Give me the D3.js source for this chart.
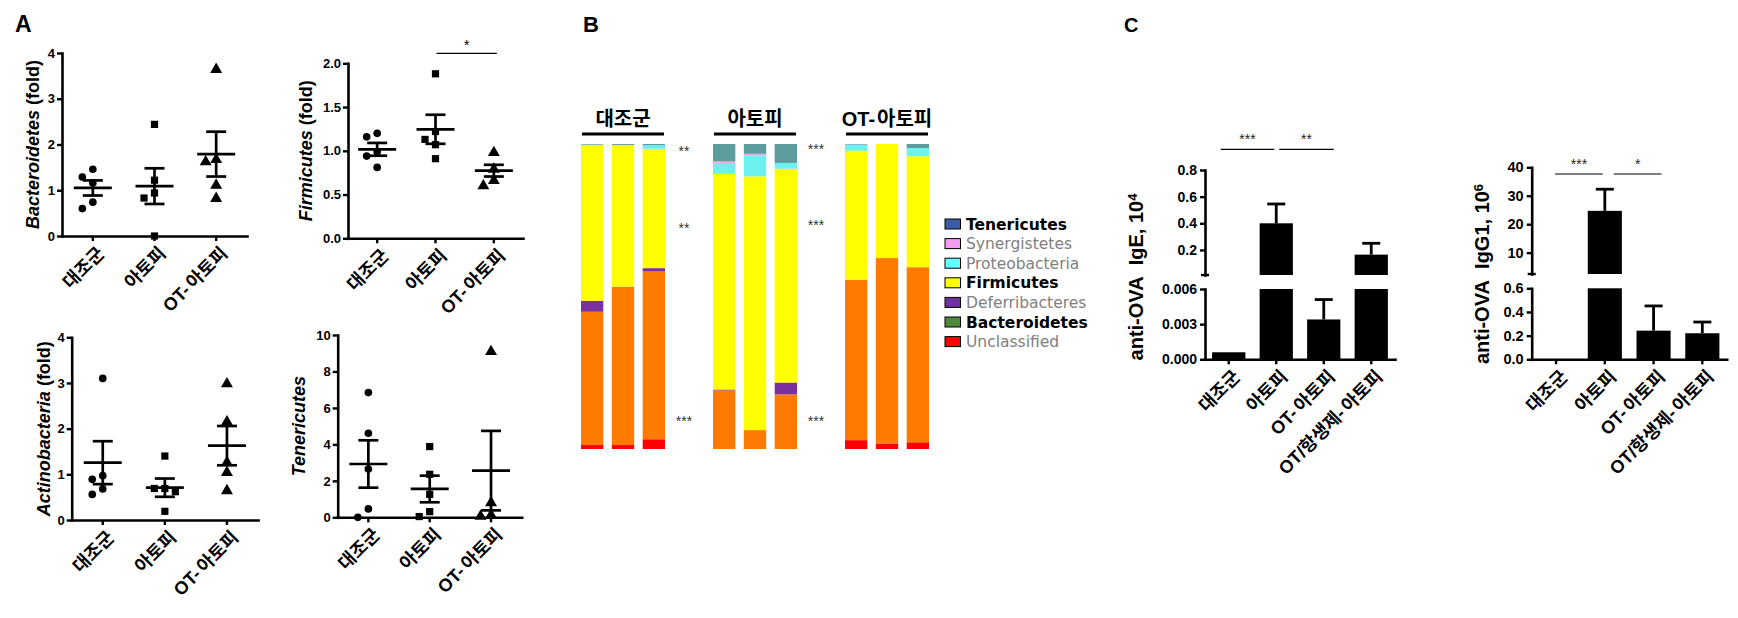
<!DOCTYPE html>
<html><head><meta charset="utf-8">
<script src="https://cdn.jsdelivr.net/npm/d3@7"></script>
<style>body{margin:0;background:#fff}</style>
</head><body><svg id="c" width="1738" height="618"></svg>
<script>
// ---------------- DATA ----------------
const groups3 = ["대조군", "아토피", "OT-아토피"];
const groups4 = ["대조군", "아토피", "OT-아토피", "OT/항생제-아토피"];

// Panel A (fold values per mouse, mean, SEM)
const bacteroidetesPts = [[1.46, 1.29, 1.16, 0.74, 0.60], [2.44, 1.22, 0.94, 0.83, 0.0], [3.64, 1.67, 1.62, 1.11, 0.82]];
const bacteroidetesMean = [1.05, 1.09, 1.79];
const bacteroidetesSem = [0.165, 0.39, 0.49];
const firmicutesPts = [[1.20, 1.16, 0.99, 0.94, 0.81], [1.88, 1.22, 1.13, 1.07, 0.91], [0.98, 0.79, 0.66, 0.60]];
const firmicutesMean = [1.017, 1.246, 0.773];
const firmicutesSem = [0.073, 0.166, 0.067];
const actinobacteriaPts = [[3.10, 0.97, 0.89, 0.68, 0.56], [1.40, 0.69, 0.69, 0.62, 0.19], [2.98, 2.15, 1.26, 1.04, 0.64]];
const actinobacteriaMean = [1.255, 0.708, 1.628];
const actinobacteriaSem = [0.47, 0.20, 0.43];
const tenericutesPts = [[6.84, 4.61, 2.65, 0.46, 0.0], [3.88, 2.36, 1.26, 0.31, 0.04], [9.09, 0.80, 0.12, 0.05]];
const tenericutesMean = [2.925, 1.554, 2.56];
const tenericutesSem = [1.30, 0.73, 2.18];

// Panel B (relative abundance %, 3 mice per group), bottom -> top
const phyla = ["Unclassified", "Bacteroidetes", "Deferribacteres", "Firmicutes", "Proteobacteria", "Synergistetes", "Tenericutes"];
const unclassifiedPct   = [1.3, 1.3, 3.2, 0, 0, 0, 2.9, 1.8, 2.2];
const bacteroidetesPct  = [43.7, 51.7, 55.0, 19.2, 6.2, 17.9, 52.6, 60.8, 57.4];
const deferribacteresPct= [3.6, 0.2, 1.1, 0.3, 0, 3.9, 0, 0, 0];
const firmicutesPct     = [51.1, 46.5, 39.1, 70.7, 83.2, 70.1, 42.3, 37.4, 36.4];
const proteobacteriaPct = [0.1, 0, 1.2, 3.6, 6.9, 1.9, 2.0, 0, 2.7];
const synergistetesPct  = [0, 0, 0, 0.5, 0.5, 0, 0, 0, 0];
const tenericutesPct    = [0.2, 0.3, 0.4, 5.7, 3.2, 6.2, 0.2, 0, 1.3];
const legendOrder = ["Tenericutes", "Synergistetes", "Proteobacteria", "Firmicutes", "Deferribacteres", "Bacteroidetes", "Unclassified"];
const legendBold = ["Tenericutes", "Firmicutes", "Bacteroidetes"];
const starLabels = [["**", "**", "***"], ["***", "***", "***"]];
const starLevels = [[98.6, 73.4, 10.1], [99.4, 74.5, 10.3]];

// Panel C
const igeMean = [0.0006, 0.40, 0.0034, 0.165];
const igeSem = [0, 0.145, 0.0017, 0.085];
const igeUpperTicks = [0.2, 0.4, 0.6, 0.8];
const igeLowerTicks = [0, 0.003, 0.006];
const igg1Mean = [0, 24.7, 0.242, 0.22];
const igg1Sem = [0, 7.6, 0.209, 0.095];
const igg1UpperTicks = [10, 20, 30, 40];
const igg1LowerTicks = [0, 0.2, 0.4, 0.6];

// ---------------- STYLE ----------------
const NUM = "'Liberation Sans', Arial, sans-serif";
const KR = "'Liberation Sans', 'Noto Sans CJK KR', sans-serif";
const barColors = {Unclassified:"#FF0000", Bacteroidetes:"#FF7A00", Deferribacteres:"#7B2FA0", Firmicutes:"#FFFF00",
  Proteobacteria:"#6CF0F0", Synergistetes:"#F2A0D8", Tenericutes:"#5C9C9C"};
const legendColors = {Tenericutes:"#3A5DA8", Synergistetes:"#F49CF0", Proteobacteria:"#66FFFF", Firmicutes:"#FFFF00",
  Deferribacteres:"#7030A0", Bacteroidetes:"#4F8A3C", Unclassified:"#FF0000"};

const svg = d3.select("#c");
svg.append("rect").attr("width", 1738).attr("height", 618).attr("fill", "#fff");

function styleAxis(g, fs) {
  g.selectAll("path.domain").attr("stroke", "#000").attr("stroke-width", 2.6).attr("stroke-linecap", "square");
  g.selectAll(".tick line").attr("stroke", "#000").attr("stroke-width", 2.4);
  g.selectAll("text").attr("font-family", NUM).attr("font-weight", "bold").attr("font-size", fs).attr("fill", "#000");
}
// label text with a small gap after "-" as in the reference typesetting
function gappedText(t, label, gap) {
  const parts = label.split(/(?<=-)/);
  parts.forEach((p, i) => t.append("tspan").attr("dx", i ? gap : 0).text(p));
}
function xLabels(g, x, yBot, fs) {
  x.domain().forEach(d => {
    const cx = x(d) + x.bandwidth() / 2;
    const t = g.append("text").attr("transform", `translate(${cx + 3},${yBot + 9}) rotate(-45)`)
      .attr("text-anchor", "end").attr("dy", "0.75em")
      .attr("font-family", KR).attr("font-weight", "bold").attr("font-size", fs);
    gappedText(t, d, 3);
  });
}
function panelLabel(t, x, y, fs) {
  svg.append("text").attr("x", x).attr("y", y).attr("font-family", NUM).attr("font-weight", "bold")
    .attr("font-size", fs).text(t);
}

// ---------------- PANEL A ----------------
function scatterPanel(c) {
  const g = svg.append("g");
  const x = d3.scaleBand().domain(groups3).range([c.x0, c.x1]);
  const y = d3.scaleLinear().domain([0, c.max]).range([c.yBot, c.yTop]);
  const ya = g.append("g").attr("transform", `translate(${c.x0},0)`)
    .call(d3.axisLeft(y).tickValues(c.ticks).tickFormat(c.fmt).tickSize(5).tickPadding(2).tickSizeOuter(0));
  styleAxis(ya, 13);
  const xa = g.append("g").attr("transform", `translate(0,${c.yBot})`)
    .call(d3.axisBottom(x).tickSize(5).tickSizeOuter(0).tickFormat(""));
  styleAxis(xa, 13);
  xLabels(g, x, c.yBot, 18);

  const shapes = [d3.symbolCircle, d3.symbolSquare, d3.symbolTriangle];
  const sizes = [46, 52, 62];
  c.pts.forEach((arr, i) => {
    const cx = x(groups3[i]) + x.bandwidth() / 2;
    const placed = [];
    arr.slice().sort((a, b) => b - a).forEach(v => {
      const py = y(v);
      const k = [0, -1, 1, -2, 2].find(k => !placed.some(p => p.k === k && Math.abs(p.py - py) < 9));
      placed.push({k, py});
      g.append("path").attr("d", d3.symbol(shapes[i], sizes[i])())
        .attr("transform", `translate(${cx + k * 10.5},${py})`).attr("fill", "#000");
    });
    const m = c.mean[i], s = c.sem[i];
    const line = (x1, y1, x2, y2) => g.append("line").attr("x1", x1).attr("y1", y1).attr("x2", x2).attr("y2", y2)
      .attr("stroke", "#000").attr("stroke-width", 2.7);
    line(cx - 19, y(m), cx + 19, y(m));
    line(cx, y(m - s), cx, y(m + s));
    line(cx - 10, y(m + s), cx + 10, y(m + s));
    line(cx - 10, y(m - s), cx + 10, y(m - s));
  });

  const t = g.append("text").attr("transform", `translate(${c.titleX},${(c.yTop + c.yBot) / 2}) rotate(-90)`)
    .attr("text-anchor", "middle").attr("dy", "0.35em").attr("font-family", NUM).attr("font-weight", "bold").attr("font-size", 18);
  t.append("tspan").attr("font-style", "italic").text(c.title);
  if (c.suffix) t.append("tspan").text(c.suffix);

  if (c.sig) {
    const [a, b, lab] = c.sig;
    const xa1 = x(groups3[a]) + x.bandwidth() / 2 + 1, xb1 = x(groups3[b]) + x.bandwidth() / 2 + 3;
    const ys = c.yTop - 10;
    g.append("line").attr("x1", xa1).attr("x2", xb1).attr("y1", ys).attr("y2", ys).attr("stroke", "#000").attr("stroke-width", 1.2);
    g.append("text").attr("x", (xa1 + xb1) / 2).attr("y", ys - 3).attr("text-anchor", "middle")
      .attr("font-family", NUM).attr("font-size", 14).text(lab);
  }
}

scatterPanel({x0: 62, x1: 247, yTop: 53, yBot: 236, max: 4, ticks: [0, 1, 2, 3, 4], fmt: d3.format("d"),
  pts: bacteroidetesPts, mean: bacteroidetesMean, sem: bacteroidetesSem, title: "Bacteroidetes", suffix: " (fold)", titleX: 33});
scatterPanel({x0: 348, x1: 523, yTop: 63.3, yBot: 238.3, max: 2, ticks: [0, 0.5, 1, 1.5, 2], fmt: d3.format(".1f"),
  pts: firmicutesPts, mean: firmicutesMean, sem: firmicutesSem, title: "Firmicutes", suffix: " (fold)", titleX: 306, sig: [1, 2, "*"]});
scatterPanel({x0: 71.7, x1: 258, yTop: 337.3, yBot: 520, max: 4, ticks: [0, 1, 2, 3, 4], fmt: d3.format("d"),
  pts: actinobacteriaPts, mean: actinobacteriaMean, sem: actinobacteriaSem, title: "Actinobacteria", suffix: " (fold)", titleX: 43.5});
scatterPanel({x0: 337.7, x1: 521.7, yTop: 335, yBot: 517.3, max: 10, ticks: [0, 2, 4, 6, 8, 10], fmt: d3.format("d"),
  pts: tenericutesPts, mean: tenericutesMean, sem: tenericutesSem, title: "Tenericutes", suffix: "", titleX: 298.5});

// ---------------- PANEL B ----------------
(function () {
  const g = svg.append("g");
  const pctArrays = {Unclassified: unclassifiedPct, Bacteroidetes: bacteroidetesPct, Deferribacteres: deferribacteresPct,
    Firmicutes: firmicutesPct, Proteobacteria: proteobacteriaPct, Synergistetes: synergistetesPct, Tenericutes: tenericutesPct};
  const samples = d3.range(9).map(i => {
    const o = {group: groups3[Math.floor(i / 3)], rep: i % 3};
    phyla.forEach(p => o[p] = pctArrays[p][i]);
    return o;
  });
  const xg = d3.scaleBand().domain(groups3).range([557, 953]);
  const xi = d3.scaleBand().domain([0, 1, 2]).range([0, 84]).paddingInner(0.276);
  const gOff = (xg.bandwidth() - 84) / 2;
  const y = d3.scaleLinear().domain([0, 100]).range([449, 144]);
  const series = d3.stack().keys(phyla)(samples);
  series.forEach(s => {
    g.selectAll(null).data(s).join("rect")
      .attr("x", d => xg(d.data.group) + gOff + xi(d.data.rep))
      .attr("width", xi.bandwidth())
      .attr("y", d => y(d[1])).attr("height", d => Math.max(0, y(d[0]) - y(d[1])))
      .attr("fill", barColors[s.key]);
  });
  groups3.forEach(gr => {
    const x0 = xg(gr) + gOff;
    const t = g.append("text").attr("x", x0 + 42).attr("y", 126).attr("text-anchor", "middle")
      .attr("font-family", KR).attr("font-weight", "bold").attr("font-size", 20);
    gappedText(t, gr, 2);
    g.append("line").attr("x1", x0 + 1).attr("x2", x0 + 83).attr("y1", 134).attr("y2", 134)
      .attr("stroke", "#000").attr("stroke-width", 3);
  });
  starLabels.forEach((labs, gi) => {
    const x0 = xg(groups3[gi]) + gOff + 84 + 19;
    labs.forEach((lab, j) => {
      g.append("text").attr("x", x0).attr("y", y(starLevels[gi][j]) + 8).attr("text-anchor", "middle")
        .attr("font-family", NUM).attr("font-size", 14).attr("fill", "#333").text(lab);
    });
  });
  legendOrder.forEach((p, i) => {
    const cy = 224 + i * 19.6;
    g.append("rect").attr("x", 945).attr("y", cy - 5).attr("width", 15.5).attr("height", 10)
      .attr("fill", legendColors[p]).attr("stroke", "#000").attr("stroke-width", 1);
    const bold = legendBold.includes(p);
    g.append("text").attr("x", 966).attr("y", cy).attr("dy", "0.36em")
      .attr("font-family", "'DejaVu Sans', sans-serif").attr("font-size", 15.5)
      .attr("font-weight", bold ? "bold" : "normal").attr("fill", bold ? "#000" : "#808080").text(p);
  });
})();

// ---------------- PANEL C ----------------
function brokenPanel(c) {
  const g = svg.append("g");
  const x = d3.scaleBand().domain(groups4).range([c.x0, c.x1]).paddingInner(0.3).paddingOuter(0.15);
  const yU = d3.scaleLinear().domain(c.uDomain).range([c.uBot, c.uTop]);
  const yL = d3.scaleLinear().domain([0, c.lMax]).range([c.yBot, c.lTop]);
  const au = g.append("g").attr("transform", `translate(${c.x0},0)`)
    .call(d3.axisLeft(yU).tickValues(c.uTicks).tickFormat(c.uFmt).tickSize(5).tickPadding(3).tickSizeOuter(0));
  styleAxis(au, c.fs);
  g.append("line").attr("x1", c.x0 - 4).attr("x2", c.x0 + 4).attr("y1", c.uBot).attr("y2", c.uBot)
    .attr("stroke", "#000").attr("stroke-width", 2.4);
  const al = g.append("g").attr("transform", `translate(${c.x0},0)`)
    .call(d3.axisLeft(yL).tickValues(c.lTicks).tickFormat(c.lFmt).tickSize(5).tickPadding(3).tickSizeOuter(0));
  styleAxis(al, c.fs);
  const xa = g.append("g").attr("transform", `translate(0,${c.yBot})`)
    .call(d3.axisBottom(x).tickSize(5).tickSizeOuter(0).tickFormat(""));
  styleAxis(xa, 13);
  xLabels(g, x, c.yBot, 18);

  const line = (x1, y1, x2, y2, w) => g.append("line").attr("x1", x1).attr("y1", y1).attr("x2", x2).attr("y2", y2)
    .attr("stroke", "#000").attr("stroke-width", w || 2.8);
  c.mean.forEach((v, i) => {
    const xb = x(groups4[i]), w = x.bandwidth(), cx = xb + w / 2, s = c.sem[i];
    if (v > c.lMax) {
      g.append("rect").attr("x", xb).attr("width", w).attr("y", yU(v)).attr("height", c.uBot - yU(v)).attr("fill", "#000");
      g.append("rect").attr("x", xb).attr("width", w).attr("y", yL(c.lMax)).attr("height", yL(0) - yL(c.lMax)).attr("fill", "#000");
      if (s > 0) { line(cx, yU(v), cx, yU(v + s)); line(cx - 9, yU(v + s), cx + 9, yU(v + s)); }
    } else if (v > 0) {
      g.append("rect").attr("x", xb).attr("width", w).attr("y", yL(v)).attr("height", yL(0) - yL(v)).attr("fill", "#000");
      if (s > 0) { line(cx, yL(v), cx, yL(v + s)); line(cx - 9, yL(v + s), cx + 9, yL(v + s)); }
    }
  });
  c.sigs.forEach(([a, b, oa, ob, lab]) => {
    const xa1 = x(groups4[a]) + x.bandwidth() / 2 + oa, xb1 = x(groups4[b]) + x.bandwidth() / 2 + ob;
    line(xa1, c.sigY, xb1, c.sigY, 1.2);
    g.append("text").attr("x", (xa1 + xb1) / 2).attr("y", c.sigY - 5).attr("text-anchor", "middle")
      .attr("font-family", NUM).attr("font-size", 14).attr("fill", "#222").text(lab);
  });
  const t = g.append("text").attr("transform", `translate(${c.titleX},${c.titleY}) rotate(-90)`)
    .attr("text-anchor", "middle").attr("dy", "0.35em").attr("font-family", NUM).attr("font-weight", "bold").attr("font-size", 20);
  t.append("tspan").text(c.title);
  t.append("tspan").attr("dy", "-0.5em").attr("font-size", 13).text(c.sup);
}

brokenPanel({x0: 1205, x1: 1395, uTop: 170, uBot: 275, uDomain: [0.012, 0.8], lTop: 289, yBot: 359.3, lMax: 0.006,
  uTicks: igeUpperTicks, lTicks: igeLowerTicks, uFmt: d3.format(".1f"), lFmt: d3.format(".3f"), fs: 14,
  mean: igeMean, sem: igeSem, sigY: 149.3, sigs: [[0, 1, -8, -2, "***"], [1, 2, 3, 10, "**"]],
  title: "anti-OVA\u00A0\u00A0IgE, 10", sup: "4", titleX: 1136, titleY: 277});
brokenPanel({x0: 1531.7, x1: 1726.7, uTop: 167.3, uBot: 274, uDomain: [2.5, 40], lTop: 288.3, yBot: 359.3, lMax: 0.6,
  uTicks: igg1UpperTicks, lTicks: igg1LowerTicks, uFmt: d3.format("d"), lFmt: d3.format(".1f"), fs: 14.5,
  mean: igg1Mean, sem: igg1Sem, sigY: 174, sigs: [[0, 1, -1, -2, "***"], [1, 2, 9, 8, "*"]],
  title: "anti-OVA\u00A0\u00A0IgG1, 10", sup: "6", titleX: 1482, titleY: 274});

panelLabel("A", 15, 32, 23);
panelLabel("B", 583, 32, 22);
panelLabel("C", 1124, 32, 20);
</script>
</body></html>
